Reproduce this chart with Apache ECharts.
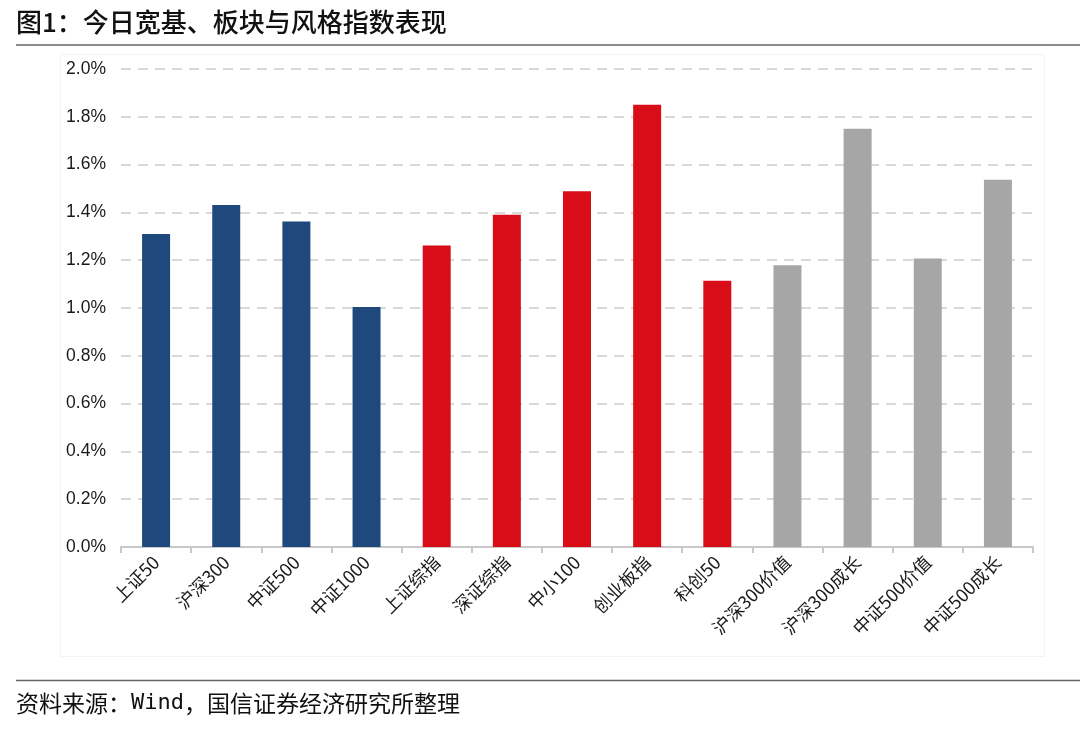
<!DOCTYPE html>
<html>
<head>
<meta charset="utf-8">
<script src="https://cdn.jsdelivr.net/npm/echarts@6/dist/echarts.min.js"></script>
<style>
html,body{margin:0;padding:0;background:#fff;}
#c{width:1080px;height:731px;}
</style>
</head>
<body>
<div id="c"></div>
<script>
var categories = ['上证50','沪深300','中证500','中证1000','上证综指','深证综指','中小100','创业板指','科创50','沪深300价值','沪深300成长','中证500价值','中证500成长'];
var values = [1.310, 1.431, 1.362, 1.004, 1.261, 1.390, 1.489, 1.850, 1.114, 1.179, 1.750, 1.207, 1.537];
var groups = ['broad','broad','broad','broad','board','board','board','board','board','style','style','style','style'];
var yTicks = [0, 0.2, 0.4, 0.6, 0.8, 1.0, 1.2, 1.4, 1.6, 1.8, 2.0];
var titleText = '图1：今日宽基、板块与风格指数表现';
var sourcePre = '资料来源：';
var sourceMid = 'Wind';
var sourcePost = '，国信证券经济研究所整理';

var groupColors = {broad:'#1F497D', board:'#D90D18', style:'#A6A6A6'};

var chart = echarts.init(document.getElementById('c'), null, {renderer:'canvas'});
var option = {
  backgroundColor:'#fff',
  animation:false,
  grid:{left:121, right:47, top:69, bottom:184, containLabel:false},
  xAxis:{
    type:'category',
    data:categories,
    axisLine:{lineStyle:{color:'#C8C8C8', width:2}},
    axisTick:{show:true, length:6, lineStyle:{color:'#C8C8C8', width:2}},
    axisLabel:{rotate:45, fontSize:18, color:'#1a1a1a', margin:12, interval:0,
      fontFamily:'"Noto Sans CJK SC", "Liberation Sans", sans-serif'}
  },
  yAxis:{
    type:'value',
    min:yTicks[0], max:yTicks[yTicks.length-1], interval:0.2,
    axisLine:{show:false}, axisTick:{show:false},
    splitLine:{lineStyle:{color:'#D9D9D9', width:2, type:[10,7]}},
    axisLabel:{fontSize:17.5, color:'#1a1a1a', margin:15,
      fontFamily:'"Liberation Sans", Arial, sans-serif',
      formatter:function(v){return v.toFixed(1)+'%';}}
  },
  series:[{
    type:'bar',
    barWidth:28,
    data:values.map(function(v,i){return {value:v, itemStyle:{color:groupColors[groups[i]]}};})
  }],
  graphic:[
    {type:'rect', silent:true, z:-1, shape:{x:60.5, y:54.5, width:984, height:602},
      style:{fill:'none', stroke:'#F3F3F3', lineWidth:1}},
    {type:'text', left:16, top:9, style:{text:titleText, font:'500 26px "Noto Sans CJK SC", sans-serif', fill:'#111'}},
    {type:'line', shape:{x1:16, y1:45, x2:1080, y2:45}, style:{stroke:'#8C8C8C', lineWidth:2}},
    {type:'line', shape:{x1:16, y1:680.5, x2:1080, y2:680.5}, style:{stroke:'#666', lineWidth:1.5}},
    {type:'text', left:16, top:692, style:{
      text:'{a|'+sourcePre+'}{b|'+sourceMid+'}{a|'+sourcePost+'}',
      rich:{
        a:{fontSize:23, fontFamily:'"Noto Sans CJK SC", sans-serif', fill:'#111', color:'#111'},
        b:{fontSize:22, fontFamily:'"DejaVu Sans Mono", monospace', fill:'#111', color:'#111'}
      }
    }}
  ]
};
chart.setOption(option);
</script>
</body>
</html>
